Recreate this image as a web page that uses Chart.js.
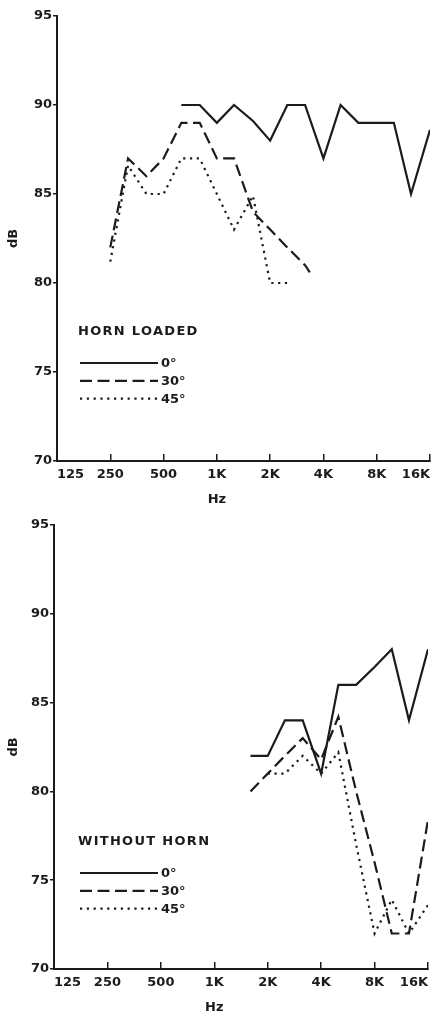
<!DOCTYPE html>
<html>
<head>
<meta charset="utf-8">
<script src="https://cdn.jsdelivr.net/npm/chart.js@4/dist/chart.umd.min.js"></script>
<style>
  html, body { margin:0; padding:0; background:#fff; overflow:hidden; }
  .panel { position:relative; width:433px; }
</style>
</head>
<body>
<div class="panel" style="height:510px"><canvas id="chart-horn"></canvas></div>
<div class="panel" style="height:508px"><canvas id="chart-bare"></canvas></div>
<script>
// x axis (octave ticks) and y axis
const tickFreqs  = [125, 250, 500, 1000, 2000, 4000, 8000, 16000];
const tickLabels = ['125', '250', '500', '1K', '2K', '4K', '8K', '16K'];
const dbTicks    = [70, 75, 80, 85, 90, 95];
const angleNames = ['0°', '30°', '45°'];

// HORN LOADED
const hornFreq0  = [630, 800, 1000, 1250, 1600, 2000, 2500, 3150, 4000, 5000, 6300, 8000, 10000, 12500, 16000];
const hornDb0    = [90, 90, 89, 90, 89.1, 88, 90, 90, 87, 90, 89, 89, 89, 85, 88.6];
const hornFreq30 = [250, 315, 400, 500, 630, 800, 1000, 1250, 1600, 2000, 2500, 3150, 3350];
const hornDb30   = [82, 87, 86, 87, 89, 89, 87, 87, 84, 83, 82, 81, 80.6];
const hornFreq45 = [250, 315, 400, 500, 630, 800, 1000, 1250, 1600, 2000, 2500];
const hornDb45   = [81.2, 86.6, 85, 85, 87, 87, 85, 83, 84.9, 80, 80];

// WITHOUT HORN
const bareFreq0  = [1600, 2000, 2500, 3150, 4000, 5000, 6300, 8000, 10000, 12500, 16000];
const bareDb0    = [82, 82, 84, 84, 81, 86, 86, 87, 88, 84, 88];
const bareFreq30 = [1600, 2000, 2500, 3150, 4000, 5000, 6300, 8000, 10000, 12500, 16000];
const bareDb30   = [80, 81, 82, 83, 81.8, 84.2, 80, 76, 72, 72, 78.4];
const bareFreq45 = [2000, 2500, 3150, 4000, 5000, 6300, 8000, 10000, 12500, 16000];
const bareDb45   = [81, 81, 82, 81, 82.2, 77, 72, 73.9, 72, 73.6];

const ink = '#1b1b1b';
const font = { family: '"DejaVu Sans", sans-serif', weight: 'bold', size: 13 };
const dashes = [[], [12, 5.5], [2.2, 4.6]];

function pts(freqs, dbs) {
  return freqs.map((f, i) => ({ x: f, y: dbs[i] }));
}

function series(list) {
  return list.map((d, i) => ({
    label: angleNames[i], data: d,
    borderColor: ink, borderWidth: 2.2, borderDash: dashes[i],
    pointRadius: 0, tension: 0, fill: false
  }));
}

// legend block + "Hz" under the 1K tick
const annot = {
  id: 'annot',
  afterDraw(chart, args, opts) {
    const ctx = chart.ctx, xs = chart.scales.x;
    ctx.save();
    ctx.fillStyle = ink; ctx.strokeStyle = ink;
    ctx.font = 'bold 13px "DejaVu Sans"';
    ctx.textBaseline = 'middle';
    ctx.textAlign = 'center';
    ctx.fillText('Hz', xs.getPixelForValue(1000), opts.hzY);
    ctx.textAlign = 'left';
    ctx.letterSpacing = '1.3px';
    ctx.fillText(opts.title, 78, 332);
    ctx.letterSpacing = '0px';
    chart.data.datasets.forEach((ds, i) => {
      const y = 363 + i * 17.8;
      ctx.lineWidth = 2.2;
      ctx.setLineDash(ds.borderDash);
      ctx.beginPath(); ctx.moveTo(80, y); ctx.lineTo(158, y); ctx.stroke();
      ctx.fillText(ds.label, 161, y + 1);
    });
    ctx.restore();
  }
};

function makeChart(id, datasets, title, g) {
  return new Chart(document.getElementById(id), {
    type: 'line',
    data: { datasets },
    plugins: [annot],
    options: {
      responsive: true, maintainAspectRatio: false, animation: false,
      layout: { padding: { top: g.top, right: g.right, bottom: 0, left: 0 } },
      plugins: { legend: { display: false }, tooltip: { enabled: false }, annot: { title, hzY: g.hzY } },
      scales: {
        x: {
          type: 'logarithmic', min: 125, max: 16000, bounds: 'data',
          afterBuildTicks: s => { s.ticks = tickFreqs.map(v => ({ value: v })); },
          afterFit: s => { s.height = g.axisH; s.paddingLeft = 0; s.paddingRight = 0; },
          ticks: { callback: (v, i) => tickLabels[i], align: 'inner', autoSkip: false,
                   maxRotation: 0, color: ink, font, padding: 13 },
          grid: { drawOnChartArea: false, tickLength: -7, color: ink, lineWidth: 1.5 },
          border: { color: ink, width: 2 }
        },
        y: {
          min: 70, max: 95,
          afterBuildTicks: s => { s.ticks = dbTicks.map(v => ({ value: v })); },
          afterFit: s => { s.width = g.left; },
          ticks: { color: ink, font, padding: 1 },
          grid: { drawOnChartArea: false, tickLength: 4, color: ink, lineWidth: 1.5 },
          border: { color: ink, width: 2 },
          title: { display: true, text: 'dB', color: ink, font, padding: { top: 6, bottom: 0 } }
        }
      }
    }
  });
}

makeChart('chart-horn', series([
  pts(hornFreq0, hornDb0), pts(hornFreq30, hornDb30), pts(hornFreq45, hornDb45)
]), 'HORN LOADED', { left: 57, top: 16, right: 3, axisH: 49, hzY: 500 });

makeChart('chart-bare', series([
  pts(bareFreq0, bareDb0), pts(bareFreq30, bareDb30), pts(bareFreq45, bareDb45)
]), 'WITHOUT HORN', { left: 54, top: 15, right: 5, axisH: 49, hzY: 498 });
</script>
</body>
</html>
